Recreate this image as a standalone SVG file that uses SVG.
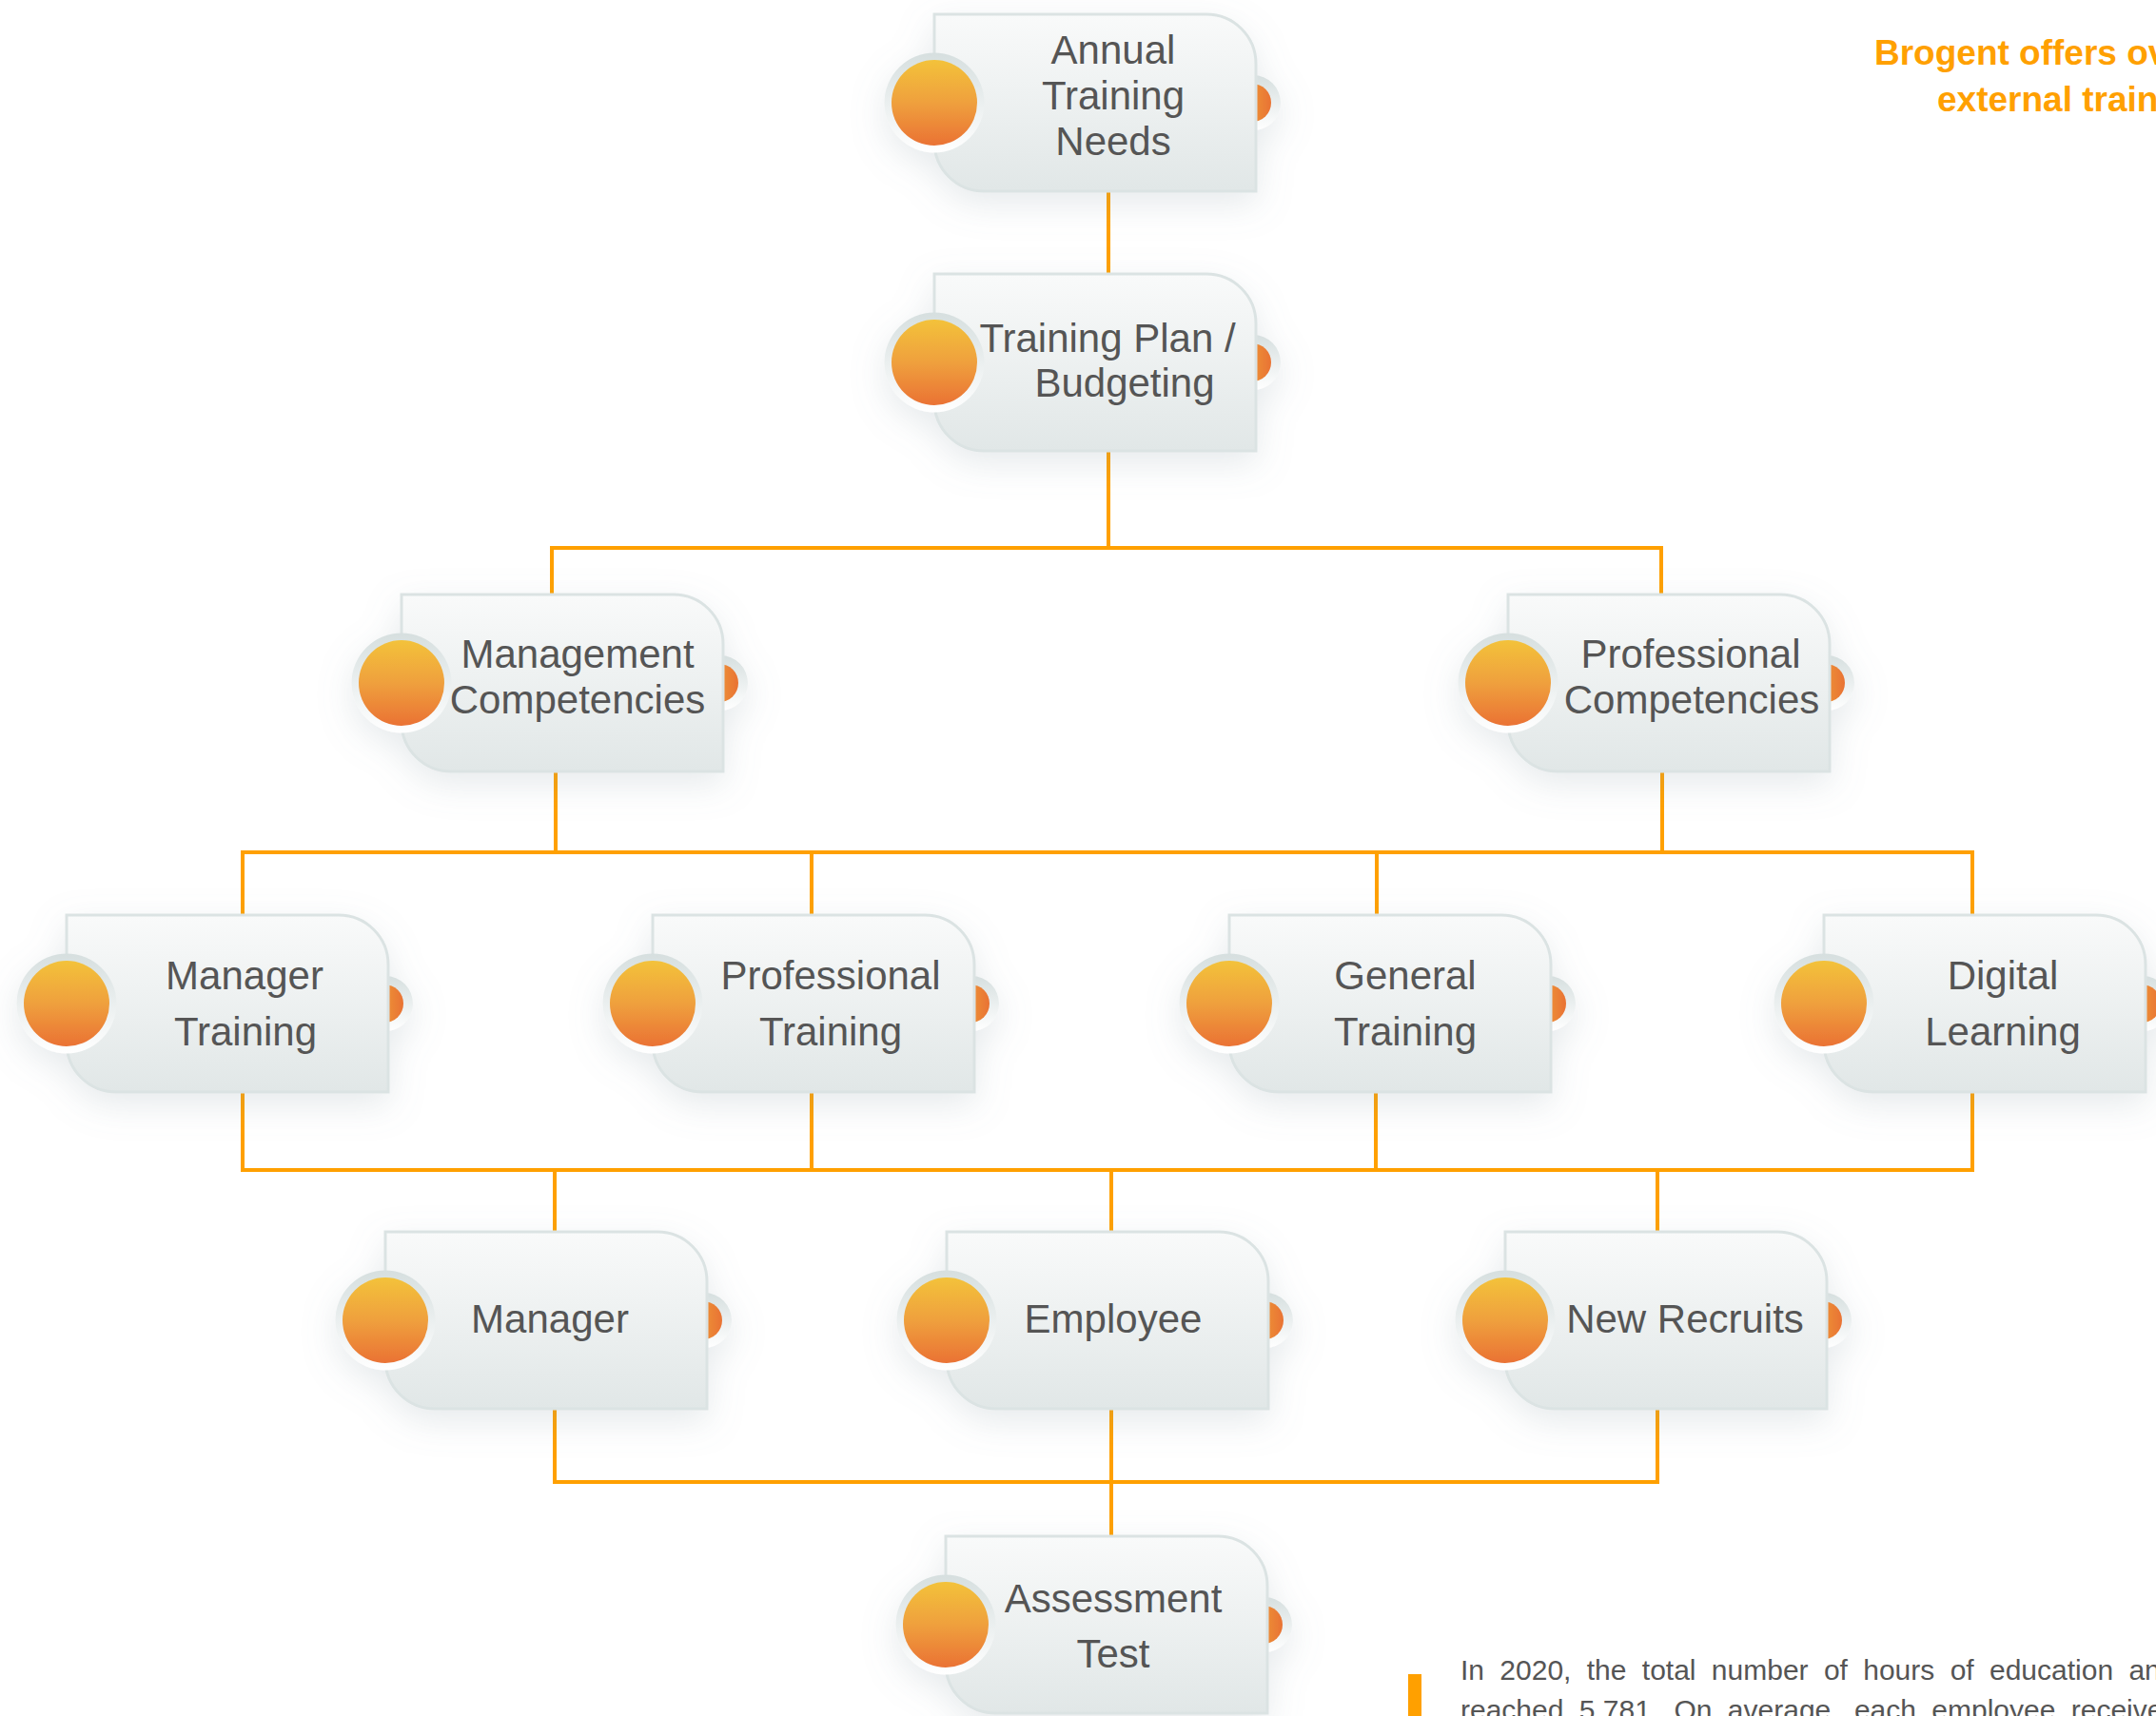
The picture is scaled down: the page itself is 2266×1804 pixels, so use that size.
<svg xmlns="http://www.w3.org/2000/svg" width="2266" height="1804" viewBox="0 0 2266 1804">
<defs>
<style>
.t{font-family:"Liberation Sans",Arial,sans-serif;font-size:42px;fill:#555555;text-anchor:middle}
.h{font-family:"Liberation Sans",Arial,sans-serif;font-size:37px;font-weight:bold;fill:#FFA000}
.p{font-family:"Liberation Sans",Arial,sans-serif;font-size:30px;fill:#555555;word-spacing:8px}
.c{fill:none;stroke:#FFA000;stroke-width:4}
</style>
<linearGradient id="card" x1="0" y1="0" x2="0" y2="1">
<stop offset="0" stop-color="#f9fafa"/>
<stop offset="1" stop-color="#e1e7e7"/>
</linearGradient>
<linearGradient id="ring" x1="0" y1="0" x2="0" y2="1">
<stop offset="0" stop-color="#d6dfdf"/>
<stop offset="1" stop-color="#ffffff"/>
</linearGradient>
<linearGradient id="org" x1="0" y1="0" x2="0" y2="1">
<stop offset="0" stop-color="#F3C23A"/>
<stop offset="0.5" stop-color="#EFA03D"/>
<stop offset="1" stop-color="#EA7234"/>
</linearGradient>
<linearGradient id="orgH" x1="0" y1="0" x2="1" y2="0">
<stop offset="0" stop-color="#F1B23D"/>
<stop offset="1" stop-color="#E97233"/>
</linearGradient>
<filter id="sh" x="-25%" y="-40%" width="150%" height="180%">
<feGaussianBlur in="SourceAlpha" stdDeviation="18"/>
<feOffset dy="12" result="b"/>
<feFlood flood-color="#8496a0" flood-opacity="0.2"/>
<feComposite in2="b" operator="in" result="s"/>
<feMerge><feMergeNode in="s"/><feMergeNode in="SourceGraphic"/></feMerge>
</filter>
<g id="node">
<circle cx="335" cy="93" r="29" fill="url(#ring)"/>
<circle cx="334" cy="93" r="20" fill="url(#orgH)"/>
<path d="M0 0 H286 A52 52 0 0 1 338 52 V186 H52 A52 52 0 0 1 0 134 Z" fill="url(#card)" stroke="#dbe3e3" stroke-width="3"/>
<circle cx="0" cy="93" r="52.5" fill="url(#ring)"/>
<circle cx="0" cy="93" r="45" fill="url(#org)"/>
</g>
</defs>
<rect width="2266" height="1804" fill="#ffffff"/>

<g id="connectors">
<path class="c" d="M1165 200 V289"/>
<path class="c" d="M1165 473 V576"/>
<path class="c" d="M580 625 V576 H1746 V625"/>
<path class="c" d="M584 811 V896"/>
<path class="c" d="M1747 811 V896"/>
<path class="c" d="M255 962 V896 H2073 V962"/>
<path class="c" d="M853 896 V962"/>
<path class="c" d="M1447 896 V962"/>
<path class="c" d="M255 1148 V1230 H2073 V1148"/>
<path class="c" d="M853 1148 V1230"/>
<path class="c" d="M1446 1148 V1230"/>
<path class="c" d="M583 1230 V1295"/>
<path class="c" d="M1168 1230 V1295"/>
<path class="c" d="M1742 1230 V1295"/>
<path class="c" d="M583 1481 V1558 H1742 V1481"/>
<path class="c" d="M1168 1481 V1615"/>
</g>

<g id="n-annual">
<use href="#node" transform="translate(982,15)" filter="url(#sh)"/>
<text class="t" x="1170" y="67">Annual</text>
<text class="t" x="1170" y="115">Training</text>
<text class="t" x="1170" y="163">Needs</text>
</g>
<g id="n-plan">
<use href="#node" transform="translate(982,288)" filter="url(#sh)"/>
<text class="t" x="1164" y="370">Training Plan /</text>
<text class="t" x="1182" y="417">Budgeting</text>
</g>
<g id="n-mgmt">
<use href="#node" transform="translate(422,625)" filter="url(#sh)"/>
<text class="t" x="607" y="702">Management</text>
<text class="t" x="607" y="750">Competencies</text>
</g>
<g id="n-profcomp">
<use href="#node" transform="translate(1585,625)" filter="url(#sh)"/>
<text class="t" x="1777" y="702">Professional</text>
<text class="t" x="1778" y="750">Competencies</text>
</g>
<g id="n-mgrtrain">
<use href="#node" transform="translate(70,962)" filter="url(#sh)"/>
<text class="t" x="257" y="1040">Manager</text>
<text class="t" x="258" y="1099">Training</text>
</g>
<g id="n-proftrain">
<use href="#node" transform="translate(686,962)" filter="url(#sh)"/>
<text class="t" x="873" y="1040">Professional</text>
<text class="t" x="873" y="1099">Training</text>
</g>
<g id="n-general">
<use href="#node" transform="translate(1292,962)" filter="url(#sh)"/>
<text class="t" x="1477" y="1040">General</text>
<text class="t" x="1477" y="1099">Training</text>
</g>
<g id="n-digital">
<use href="#node" transform="translate(1917,962)" filter="url(#sh)"/>
<text class="t" x="2105" y="1040">Digital</text>
<text class="t" x="2105" y="1099">Learning</text>
</g>
<g id="n-manager">
<use href="#node" transform="translate(405,1295)" filter="url(#sh)"/>
<text class="t" x="578" y="1401">Manager</text>
</g>
<g id="n-employee">
<use href="#node" transform="translate(995,1295)" filter="url(#sh)"/>
<text class="t" x="1170" y="1401">Employee</text>
</g>
<g id="n-recruits">
<use href="#node" transform="translate(1582,1295)" filter="url(#sh)"/>
<text class="t" x="1771" y="1401">New Recruits</text>
</g>
<g id="n-assessment">
<use href="#node" transform="translate(994,1615)" filter="url(#sh)"/>
<text class="t" x="1170" y="1695">Assessment</text>
<text class="t" x="1170" y="1753">Test</text>
</g>

<g id="side-text">
<text class="h" x="1970" y="68">Brogent offers ov</text>
<text class="h" x="2036" y="117">external train</text>
<rect x="1480" y="1760" width="14" height="44" fill="#FFA000"/>
<text class="p" x="1535" y="1766">In 2020, the total number of hours of education an</text>
<text class="p" x="1535" y="1808">reached 5,781. On average, each employee receive</text>
</g>
</svg>
